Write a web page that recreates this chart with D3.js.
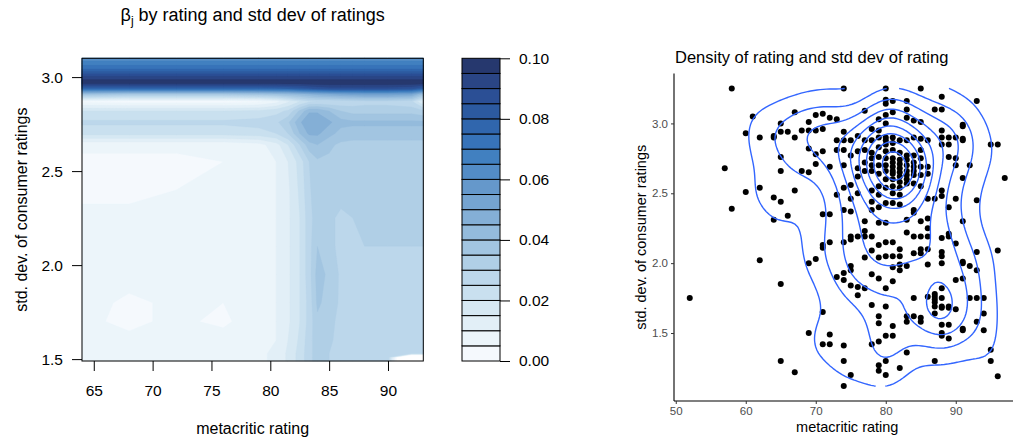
<!DOCTYPE html>
<html>
<head>
<meta charset="utf-8">
<script src="https://cdn.jsdelivr.net/npm/d3@7"></script>
<style>
  body { margin: 0; background: #fff; }
  svg { display: block; font-family: "Liberation Sans", Arial, Helvetica, sans-serif; }
</style>
</head>
<body>
<svg id="chart" width="1013" height="441"></svg>
<script>
// ---------- Left: beta_j surface over rating x std. dev. of ratings ----------
// grid nodes (metacritic rating) and (std. dev.), rows of betaZ run bottom -> top
const betaX = [64, 68, 72, 76, 79, 80.5, 81.5, 82.5, 83.3, 84, 85, 86, 87, 88, 90, 92, 93];
const betaY = [1.49, 1.51, 1.53, 1.6, 1.7, 1.8, 1.95, 2.1, 2.25, 2.4, 2.55, 2.64, 2.7, 2.76, 2.82, 2.87, 2.91, 2.94, 2.97, 3.0, 3.04, 3.07, 3.1];
const betaZ = [
  [.008,.008,.008,.009,.009,.011,.016,.022,.028,.033,.030,.027,.028,.029,.028,-.05,-.05],
  [.008,.008,.008,.009,.009,.011,.016,.022,.028,.033,.030,.027,.028,.029,.028,-.05,-.05],
  [.008,.008,.008,.009,.009,.011,.016,.022,.028,.033,.030,.027,.028,.029,.028,.028,.028],
  [.007,.006,.007,.007,.008,.010,.015,.021,.028,.033,.031,.028,.028,.028,.028,.028,.028],
  [.006,.004,.006,.004,.008,.010,.014,.020,.027,.034,.032,.028,.027,.027,.028,.028,.028],
  [.007,.004,.006,.005,.008,.010,.014,.020,.027,.036,.033,.029,.027,.027,.027,.027,.027],
  [.007,.007,.007,.007,.008,.010,.014,.020,.028,.037,.034,.029,.027,.028,.027,.027,.027],
  [.007,.007,.007,.007,.008,.010,.014,.020,.028,.035,.032,.028,.028,.030,.030,.030,.030],
  [.006,.006,.006,.007,.008,.010,.014,.020,.028,.033,.031,.029,.030,.031,.031,.031,.031],
  [.004,.004,.005,.006,.008,.010,.014,.021,.029,.034,.033,.032,.032,.032,.032,.032,.032],
  [.004,.004,.004,.005,.007,.010,.015,.022,.030,.034,.034,.033,.032,.032,.032,.032,.032],
  [.006,.006,.006,.006,.008,.013,.020,.030,.038,.040,.036,.034,.033,.033,.033,.033,.033],
  [.022,.022,.022,.022,.023,.025,.030,.040,.046,.046,.042,.038,.038,.038,.038,.038,.038],
  [.026,.026,.026,.026,.027,.029,.034,.044,.050,.050,.046,.042,.041,.041,.041,.041,.041],
  [.020,.020,.020,.020,.021,.023,.026,.036,.044,.044,.040,.035,.033,.033,.033,.033,.031],
  [.004,.003,.003,.003,.004,.008,.014,.020,.024,.025,.025,.026,.027,.028,.028,.026,.014],
  [.040,.036,.036,.036,.038,.040,.042,.044,.046,.048,.050,.052,.053,.054,.054,.052,.040],
  [.078,.078,.078,.078,.078,.079,.080,.082,.084,.086,.088,.088,.088,.088,.088,.086,.080],
  [.099,.099,.099,.099,.099,.099,.099,.099,.099,.099,.099,.099,.099,.099,.099,.099,.099],
  [.092,.092,.092,.092,.092,.092,.092,.092,.092,.092,.092,.092,.092,.092,.092,.092,.092],
  [.076,.076,.076,.076,.076,.076,.076,.076,.076,.076,.076,.076,.076,.076,.076,.076,.076],
  [.068,.068,.068,.068,.068,.068,.068,.068,.068,.068,.068,.068,.068,.068,.068,.068,.068],
  [.062,.062,.062,.062,.062,.062,.062,.062,.062,.062,.062,.062,.062,.062,.062,.062,.062]
];
const betaBreaks = [0, .005, .01, .015, .02, .025, .03, .035, .04, .045, .05, .055, .06, .065, .07, .075, .08, .085, .09, .095, .1];
const betaColors = ["#f5f9fd","#ecf5fa","#e2eff7","#d6e8f3","#c9e0ef","#bcd7eb","#b0cfe6","#a2c5e1","#94bbdc","#84afd6",
                    "#75a4d1","#6598cb","#538cc6","#4180c0","#3773b9","#3066ad","#2c5aa0","#2b4f95","#2a4585","#26386e"];
const betaXTicks = [65, 70, 75, 80, 85, 90];
const betaYTicks = [1.5, 2.0, 2.5, 3.0];
const legendTicks = [0, 0.02, 0.04, 0.06, 0.08, 0.10];

// ---------- Right: games by metacritic rating and std. dev. of ratings ----------
const ratingValues = [52, 57, 58, 60, 61, 62, 64, 65, 66, 67, 68, 69, 70, 71, 72, 73, 74, 75, 76, 77, 78, 79, 80,
                      81, 82, 83, 84, 85, 86, 87, 88, 89, 90, 91, 92, 93, 94, 95, 96, 97];
const sdGroups = [
  [1.75],
  [2.68],
  [3.25, 2.39],
  [2.93, 2.51],
  [3.05],
  [2.90, 2.54, 2.02],
  [2.91, 2.90, 2.47, 2.31],
  [3.00, 2.94, 2.76, 2.66, 2.44, 1.85, 1.30],
  [2.94, 2.34],
  [3.08, 2.90, 2.52, 1.22],
  [2.95, 2.66],
  [3.01, 2.95, 2.82, 2.65, 2.00, 1.50],
  [3.06, 2.95, 2.78, 2.71, 2.03],
  [3.07, 2.96, 2.80, 2.35, 2.13, 2.11, 1.65, 1.42],
  [3.04, 2.69, 2.35, 2.15, 1.49, 1.42],
  [3.03, 2.88, 2.81, 2.49, 1.90],
  [3.25, 2.94, 2.88, 2.81, 2.70, 2.54, 2.38, 2.15, 1.93, 1.88, 1.41, 1.30, 1.12],
  [2.88, 2.77, 2.56, 2.46, 2.37, 2.19, 2.17, 1.98, 1.95, 1.84, 1.20],
  [2.91, 2.80, 2.68, 2.62, 2.50, 2.19, 1.83, 1.77],
  [3.09, 2.88, 2.81, 2.72, 2.66, 2.30, 2.23, 2.19, 2.04, 1.82],
  [2.96, 2.88, 2.79, 2.75, 2.70, 2.66, 2.52, 2.44, 2.38, 2.19, 2.09, 1.92, 1.70, 1.42],
  [3.03, 2.95, 2.90, 2.83, 2.76, 2.70, 2.64, 2.55, 2.49, 2.40, 2.29, 2.13, 2.04, 1.89, 1.62, 1.57, 1.44, 1.27, 1.23],
  [3.25, 3.17, 3.14, 3.06, 3.00, 2.90, 2.88, 2.85, 2.80, 2.75, 2.70, 2.66, 2.60, 2.54, 2.43, 2.29, 2.15, 2.05, 1.82, 1.69, 1.48, 1.30, 1.20],
  [3.16, 3.08, 2.90, 2.86, 2.81, 2.75, 2.72, 2.69, 2.66, 2.64, 2.60, 2.55, 2.50, 2.43, 2.15, 2.05, 1.97, 1.87, 1.55, 1.48],
  [2.88, 2.79, 2.74, 2.71, 2.68, 2.65, 2.62, 2.58, 2.54, 2.49, 2.42, 2.10, 2.05, 1.99, 1.95, 1.25],
  [3.16, 3.10, 3.04, 2.88, 2.77, 2.74, 2.70, 2.66, 2.63, 2.60, 2.57, 2.31, 2.22, 1.98, 1.62, 1.58, 1.36],
  [3.02, 2.90, 2.77, 2.72, 2.69, 2.66, 2.63, 2.57, 2.38, 2.36, 2.19, 2.07, 1.75, 1.62],
  [3.25, 3.01, 2.89, 2.81, 2.75, 2.69, 2.63, 2.55, 2.30, 2.19, 2.10, 2.07, 1.61, 1.58],
  [2.88, 2.69, 2.64, 2.46, 2.32, 2.25, 2.19, 2.10, 1.99, 1.76],
  [3.10, 2.46, 1.78, 1.76, 1.74, 1.72, 1.69, 1.64, 1.30],
  [3.19, 3.10, 2.95, 2.90, 2.85, 2.52, 2.48, 2.18, 2.08, 2.05, 2.00, 1.82, 1.75, 1.69, 1.68, 1.56, 1.50, 1.48],
  [2.90, 2.85, 2.76, 2.40, 2.21, 2.19, 1.69, 1.68, 1.56, 1.46],
  [2.90, 2.75, 2.70, 2.46, 2.14, 1.88, 1.67],
  [2.99, 2.98, 2.89, 2.88, 2.61, 2.30, 2.01, 2.00, 1.89, 1.53, 1.52],
  [2.70, 1.98, 1.75],
  [3.16, 2.45, 2.08, 1.95, 1.75, 1.58],
  [1.75, 1.64, 1.52],
  [2.85, 1.38, 1.30],
  [2.85, 2.09, 1.19],
  [2.61]
];
const ratingTicks = [50, 60, 70, 80, 90];
const sdTicks = [1.5, 2.0, 2.5, 3.0];

const svg = d3.select("#chart");

// ======================= left panel =======================
const LP = { left: 82, right: 423.3, top: 58.3, bottom: 361 };
const xL = d3.scaleLinear([betaX[0], betaX[betaX.length - 1]], [LP.left, LP.right]);
const yL = d3.scaleLinear([betaY[0], betaY[betaY.length - 1]], [LP.bottom, LP.top]);

// grid index -> data value (nodes are not evenly spaced)
const colToX = d3.scaleLinear(d3.range(betaX.length), betaX).clamp(true);
const rowToY = d3.scaleLinear(d3.range(betaY.length), betaY).clamp(true);
const gridProjection = d3.geoTransform({
  point(gx, gy) { this.stream.point(xL(colToX(gx - 0.5)), yL(rowToY(gy - 0.5))); }
});
const gridPath = d3.geoPath(gridProjection);

const bands = d3.contours()
  .size([betaX.length, betaY.length])
  .thresholds(betaBreaks.slice(0, -1))(betaZ.flat());

svg.append("g").selectAll("path")
  .data(bands)
  .join("path")
  .attr("d", gridPath)
  .attr("fill", (d, i) => betaColors[i])
  .attr("stroke", (d, i) => betaColors[i])
  .attr("stroke-width", 0.3);

svg.append("rect")
  .attr("x", LP.left).attr("y", LP.top)
  .attr("width", LP.right - LP.left).attr("height", LP.bottom - LP.top)
  .attr("fill", "none").attr("stroke", "#000").attr("stroke-width", 1);

const gxL = svg.append("g").attr("transform", `translate(0,${LP.bottom})`)
  .call(d3.axisBottom(xL).tickValues(betaXTicks).tickSize(10).tickSizeOuter(0).tickPadding(14).tickFormat(d3.format("d")));
gxL.select(".domain").remove();
const gyL = svg.append("g").attr("transform", `translate(${LP.left},0)`)
  .call(d3.axisLeft(yL).tickValues(betaYTicks).tickSize(10).tickSizeOuter(0).tickPadding(9).tickFormat(d3.format(".1f")));
gyL.select(".domain").remove();
[gxL, gyL].forEach(g => {
  g.selectAll("line").attr("stroke", "#000");
  g.selectAll("text").attr("fill", "#000").style("font-size", "15.5px").style("font-family", null);
});

svg.append("text")
  .attr("x", (LP.left + LP.right) / 2).attr("y", 434)
  .attr("text-anchor", "middle").style("font-size", "16px")
  .text("metacritic rating");
svg.append("text")
  .attr("transform", `translate(27,${(LP.top + LP.bottom) / 2}) rotate(-90)`)
  .attr("text-anchor", "middle").style("font-size", "16px")
  .text("std. dev. of consumer ratings");

const titleL = svg.append("text")
  .attr("x", (LP.left + LP.right) / 2).attr("y", 21)
  .attr("text-anchor", "middle").style("font-size", "18px");
titleL.append("tspan").text("β");
titleL.append("tspan").attr("dy", 4).style("font-size", "12px").text("j");
titleL.append("tspan").attr("dy", -4).text(" by rating and std dev of ratings");

// colour key
const KEY = { left: 462, right: 500, top: 58.3, bottom: 361 };
const yKey = d3.scaleLinear([betaBreaks[0], betaBreaks[betaBreaks.length - 1]], [KEY.bottom, KEY.top]);
svg.append("g").selectAll("rect")
  .data(d3.pairs(betaBreaks))
  .join("rect")
  .attr("x", KEY.left).attr("width", KEY.right - KEY.left)
  .attr("y", d => yKey(d[1])).attr("height", d => yKey(d[0]) - yKey(d[1]))
  .attr("fill", (d, i) => betaColors[i])
  .attr("stroke", "#000").attr("stroke-width", 1);
const gKey = svg.append("g").attr("transform", `translate(${KEY.right},0)`)
  .call(d3.axisRight(yKey).tickValues(legendTicks).tickSize(10).tickSizeOuter(0).tickPadding(9).tickFormat(d3.format(".2f")));
gKey.select(".domain").remove();
gKey.selectAll("line").attr("stroke", "#000");
gKey.selectAll("text").attr("fill", "#000").style("font-size", "15.5px").style("font-family", null);

// ======================= right panel =======================
const games = ratingValues.flatMap((r, i) => sdGroups[i].map(s => [r, s]));
const rx = games.map(d => d[0]), ry = games.map(d => d[1]);
const xExt = d3.extent(rx), yExt = d3.extent(ry);
const pad = e => [e[0] - 0.05 * (e[1] - e[0]), e[1] + 0.05 * (e[1] - e[0])];

const RP = { left: 674, right: 1020.5, top: 73.6, bottom: 401 };
const xR = d3.scaleLinear(pad(xExt), [RP.left, RP.right]);
const yR = d3.scaleLinear(pad(yExt), [RP.bottom, RP.top]);

// 2-d kernel density on a 100 x 100 grid spanning the data range
function bandwidthNrd(v) {
  const s = v.slice().sort(d3.ascending);
  const iqr = d3.quantileSorted(s, 0.75) - d3.quantileSorted(s, 0.25);
  return 4 * 1.06 * Math.min(d3.deviation(v), iqr / 1.34) * Math.pow(v.length, -0.2);
}
const N = 100;
const hx = bandwidthNrd(rx) / 4, hy = bandwidthNrd(ry) / 4;
const gxs = d3.range(N).map(i => xExt[0] + (xExt[1] - xExt[0]) * i / (N - 1));
const gys = d3.range(N).map(j => yExt[0] + (yExt[1] - yExt[0]) * j / (N - 1));
const dnorm = u => Math.exp(-0.5 * u * u) / Math.sqrt(2 * Math.PI);
const kx = gxs.map(g => rx.map(x => dnorm((g - x) / hx)));
const ky = gys.map(g => ry.map(y => dnorm((g - y) / hy)));
const dens = new Array(N * N);
for (let j = 0; j < N; j++) {
  for (let i = 0; i < N; i++) {
    let s = 0;
    const a = kx[i], b = ky[j];
    for (let k = 0; k < a.length; k++) s += a[k] * b[k];
    dens[j * N + i] = s / (games.length * hx * hy);
  }
}
const dExt = d3.extent(dens);
const densBreaks = d3.ticks(dExt[0], dExt[1], 10).filter(b => b > dExt[0] && b < dExt[1]);
const isolines = d3.contours().size([N, N]).thresholds(densBreaks)(dens);

const gridToX = c => xExt[0] + (c - 0.5) * (xExt[1] - xExt[0]) / (N - 1);
const gridToY = c => yExt[0] + (c - 0.5) * (yExt[1] - yExt[0]) / (N - 1);
const onEdge = p => p[0] === 0 || p[0] === N || p[1] === 0 || p[1] === N;

// split the closed rings where they run along the grid border, giving open lines
const segments = [];
isolines.forEach(mp => mp.coordinates.forEach(poly => poly.forEach(ring => {
  const pts = ring.slice(0, -1);
  const k = pts.findIndex(onEdge);
  if (k < 0) { segments.push({ closed: true, pts }); return; }
  const rot = pts.slice(k).concat(pts.slice(0, k));
  let cur = [];
  rot.forEach(p => {
    if (onEdge(p)) { if (cur.length > 1) segments.push({ closed: false, pts: cur }); cur = []; }
    else cur.push(p);
  });
  if (cur.length > 1) segments.push({ closed: false, pts: cur });
})));

svg.append("defs").append("clipPath").attr("id", "rclip")
  .append("rect").attr("x", RP.left).attr("y", RP.top)
  .attr("width", RP.right - RP.left).attr("height", RP.bottom - RP.top);

svg.append("g").selectAll("circle")
  .data(games)
  .join("circle")
  .attr("cx", d => xR(d[0])).attr("cy", d => yR(d[1]))
  .attr("r", 3).attr("fill", "#000");

const isoLine = d3.line().x(p => xR(gridToX(p[0]))).y(p => yR(gridToY(p[1])));
svg.append("g").attr("clip-path", "url(#rclip)").selectAll("path")
  .data(segments)
  .join("path")
  .attr("d", s => isoLine(s.pts) + (s.closed ? "Z" : ""))
  .attr("fill", "none").attr("stroke", "#3366FF").attr("stroke-width", 1.4)
  .attr("stroke-linejoin", "round").attr("stroke-linecap", "butt");

const gxR = svg.append("g").attr("transform", `translate(0,${RP.bottom})`)
  .call(d3.axisBottom(xR).tickValues(ratingTicks).tickSize(3).tickSizeOuter(0).tickPadding(3).tickFormat(d3.format("d")));
gxR.select(".domain").attr("d", `M${RP.left},0H${RP.right}`).attr("stroke", "#000").attr("stroke-width", 1.1);
const gyR = svg.append("g").attr("transform", `translate(${RP.left},0)`)
  .call(d3.axisLeft(yR).tickValues(sdTicks).tickSize(3).tickSizeOuter(0).tickPadding(3).tickFormat(d3.format(".1f")));
gyR.select(".domain").attr("d", `M0,${RP.top}V${RP.bottom}`).attr("stroke", "#000").attr("stroke-width", 1.1);
[gxR, gyR].forEach(g => {
  g.selectAll(".tick line").attr("stroke", "#333");
  g.selectAll("text").attr("fill", "#4d4d4d").style("font-size", "11.5px").style("font-family", null);
});

svg.append("text")
  .attr("x", (RP.left + RP.right) / 2).attr("y", 432)
  .attr("text-anchor", "middle").style("font-size", "14.5px")
  .text("metacritic rating");
svg.append("text")
  .attr("transform", `translate(646,${(RP.top + RP.bottom) / 2}) rotate(-90)`)
  .attr("text-anchor", "middle").style("font-size", "14.5px")
  .text("std. dev. of consumer ratings");
svg.append("text")
  .attr("x", 675).attr("y", 63)
  .style("font-size", "16.5px")
  .text("Density of rating and std dev of rating");
</script>
</body>
</html>
